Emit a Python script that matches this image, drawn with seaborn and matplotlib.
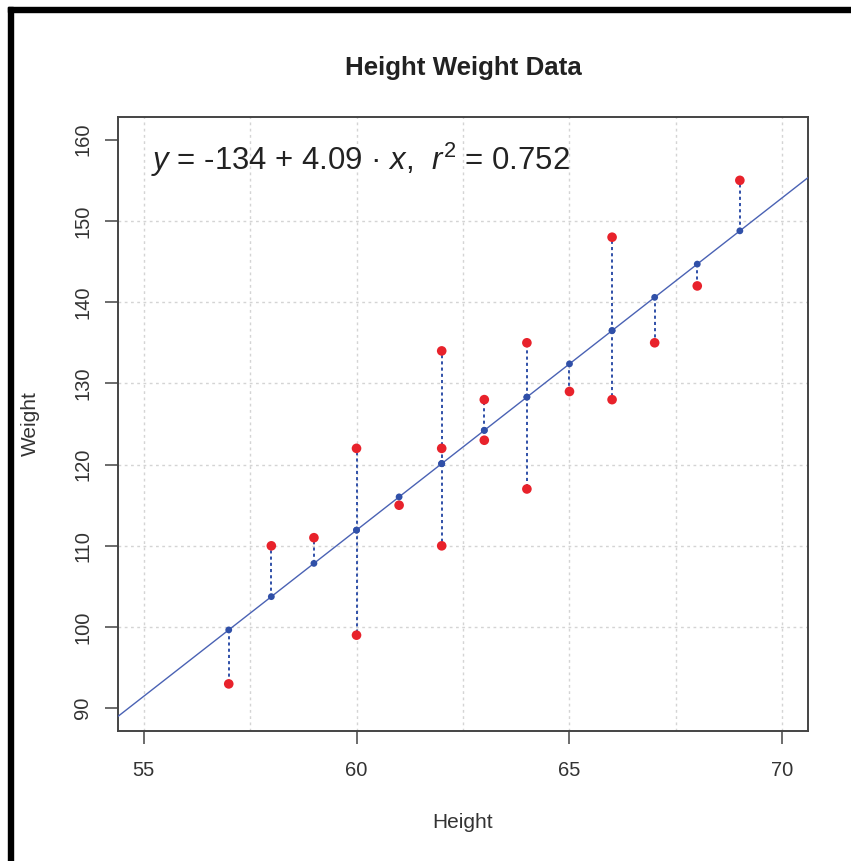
import numpy as np
import pandas as pd
import matplotlib
matplotlib.use("Agg")
import matplotlib.pyplot as plt
from matplotlib.patches import Rectangle
import seaborn as sns

# Height / weight observations
heights = [57, 58, 59, 60, 60, 61, 62, 62, 62, 63, 63, 64, 64, 65, 66, 66, 67, 68, 69]
weights = [93, 110, 111, 122, 99, 115, 134, 122, 110, 128, 123, 135, 117, 129, 148, 128, 135, 142, 155]
r_squared = 0.752

x_ticks = [55, 60, 65, 70]
y_ticks = [90, 100, 110, 120, 130, 140, 150, 160]
x_grid = [55, 57.5, 60, 62.5, 65, 67.5, 70]
y_grid = [100, 110, 120, 130, 140, 150]

df = pd.DataFrame({"Height": heights, "Weight": weights})

# least-squares fit
slope, intercept = np.polyfit(df["Height"], df["Weight"], 1)
df["Fitted"] = intercept + slope * df["Height"]

sns.set_style("white")
plt.rcParams["font.family"] = ["Liberation Sans", "DejaVu Sans"]
plt.rcParams["mathtext.fontset"] = "custom"
plt.rcParams["mathtext.rm"] = "Liberation Sans"
plt.rcParams["mathtext.it"] = "Liberation Sans:italic"
plt.rcParams["mathtext.bf"] = "Liberation Sans:bold"

W, H = 851, 861
fig = plt.figure(figsize=(W / 100, H / 100), dpi=100)
ax = fig.add_axes([118 / W, (H - 731) / H, 690 / W, 614 / H])

red = "#e8222b"
blue = "#3050a8"
line_blue = "#4a62b4"
grid_col = "#d4d4d4"

# dotted reference grid
for gx in x_grid:
    ax.axvline(gx, color=grid_col, lw=1.0, ls=(0, (2, 2.5)), zorder=0)
for gy in y_grid:
    ax.axhline(gy, color=grid_col, lw=1.0, ls=(0, (2, 2.5)), zorder=0)

# residual segments
ax.vlines(df["Height"], df["Fitted"], df["Weight"], colors=blue,
          linestyles=(0, (1.6, 1.6)), lw=1.4, zorder=2)

# regression line
ax.axline((0, intercept), slope=slope, color=line_blue, lw=1.0, zorder=3)

sns.scatterplot(data=df, x="Height", y="Weight", color=red, s=48,
                edgecolor="none", ax=ax, zorder=4)
sns.scatterplot(data=df, x="Height", y="Fitted", color=blue, s=24,
                edgecolor="none", ax=ax, zorder=5)

ax.set_xlim(54.4, 70.6)
ax.set_ylim(87.2, 162.8)
ax.set_xticks(x_ticks)
ax.set_yticks(y_ticks)
ax.tick_params(axis="both", direction="out", length=9.4, width=1.1,
               color="#444444", labelsize=14.5, labelcolor="#333333",
               bottom=True, left=True)
ax.tick_params(axis="x", pad=12.5)
ax.tick_params(axis="y", pad=9, labelrotation=90)
for lbl in ax.get_yticklabels():
    lbl.set_va("center")

for sp in ax.spines.values():
    sp.set_color("#444444")
    sp.set_linewidth(1.4)

ax.set_xlabel("Height", fontsize=15, color="#333333", va="center")
ax.set_ylabel("Weight", fontsize=15, color="#333333", va="center")
ax.xaxis.set_label_coords(0.5, (731 - 822) / 614)
ax.yaxis.set_label_coords((30 - 118) / 690, 0.5)

label = (f"$y$ = {intercept:.0f} + {slope:.2f} \u00b7 $x$,  "
         f"$r^2$ = {r_squared:.3f}")
ax.text(55.18, 156.3, label, fontsize=22.4, color="#222222", va="baseline",
        ha="left", zorder=6)

fig.text(463 / W, 1 - 68 / H, "Height Weight Data", fontsize=18.6,
         fontweight="bold", color="#222222", ha="center", va="center")

# black frame along left and top
fig.patches.append(Rectangle((8 / W, 0), 5 / W, (H - 7) / H,
                             transform=fig.transFigure, color="black", zorder=10))
fig.patches.append(Rectangle((8 / W, (H - 12) / H), 1 - 8 / W, 5 / H,
                             transform=fig.transFigure, color="black", zorder=10))

fig.savefig("out.png", dpi=100, facecolor="white")
